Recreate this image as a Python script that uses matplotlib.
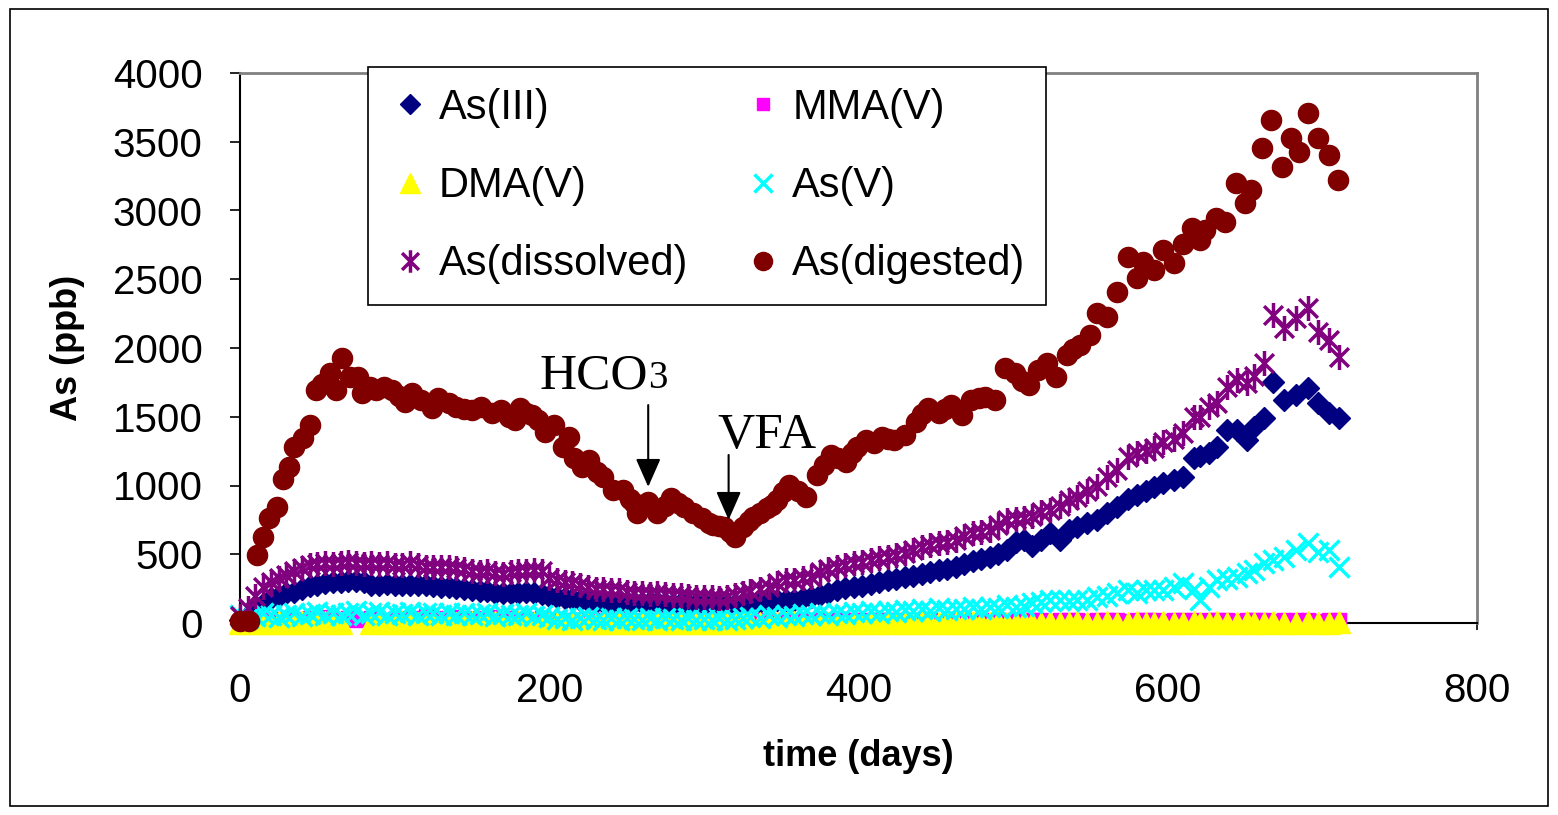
import numpy as np
import matplotlib
matplotlib.use("Agg")
import matplotlib.pyplot as plt
from matplotlib.path import Path
from matplotlib.patches import Rectangle

nan = np.nan

# sampling days for the speciation series
days_spec = [
    0, 5, 10, 15, 20, 25, 30, 35, 40, 45, 50,
    55, 60, 65, 70, 75, 80, 85, 90, 95, 100, 105,
    110, 115, 120, 125, 130, 135, 140, 145, 150, 155, 160,
    165, 170, 175, 180, 185, 190, 195, 200, 205, 210, 215,
    220, 225, 230, 235, 240, 245, 250, 255, 260, 265, 270,
    275, 280, 285, 290, 295, 300, 305, 310, 315, 320, 325,
    330,
    336, 342, 347, 353, 358, 364, 369, 375, 380, 386,
    391, 397, 402, 408, 413, 419, 424, 430, 435, 441,
    446, 452, 457, 463, 468, 474, 479, 485, 490, 496,
    502, 507, 512, 518, 524, 530, 536, 541, 548, 554,
    561, 567, 574, 580, 586, 591, 597, 604, 610, 617,
    621, 627, 632, 638, 645, 651, 656, 662, 668, 675,
    683, 691, 697, 704, 711,
]

as_iii = [
    20, 50, 100, 140, 180, 200, 215, 225, 250, 270, 280,
    290, 295, 300, 305, 305, 295, 280, 280, 285, 280, 280,
    275, 280, 275, 270, 265, 260, 255, 250, 240, 235, 230,
    220, 220, 215, 220, 225, 220, 210, 195, 190, 180, 175,
    170, 160, 150, 150, 145, 150, 145, 150, 145, 150, 150,
    145, 140, 145, 140, 135, 140, 135, 140, 130, 140, 145,
    150,
    155, 160, 167, 165, 170, 180, 191, 205, 216, 240,
    252, 260, 270, 285, 295, 310, 320, 335, 345, 360,
    370, 385, 395, 410, 430, 450, 465, 482, 500, 531,
    591, 604, 560, 604, 652, 604, 680, 700, 725, 749,
    798, 846, 900, 930, 960, 991, 1016, 1040, 1064, 1200,
    1215, 1240, 1282, 1404, 1404, 1331, 1428, 1489, 1755, 1622,
    1658, 1707, 1598, 1525, 1489,
]

mma_v = [
    10, 15, 20, 25, 30, 20, 35, 25, 30, 40, 25,
    45, 30, 20, 35, 25, 30, 40, 20, 0, 30, 40,
    0, 35, 50, 25, 40, 30, 45, 35, 25, 40, 30,
    45, 25, 35, 20, 30, 25, 35, 20, 25, 15, 20,
    25, 15, 20, 25, 15, 20, 25, 15, 20, 25, 15,
    20, 25, 15, 20, 25, 15, 20, 25, 15, 20, 25,
    20,
    20, 15, 20, 25, 20, 15, 20, 25, 20, 15,
    20, 25, 20, 15, 20, 25, 20, 15, 20, 25,
    20, 15, 0, 20, 25, 20, 15, 20, 25, 20,
    15, 20, 25, 20, 15, 20, 25, 20, 15, 20,
    25, 20, 15, 20, 25, 20, 15, 20, 25, 20,
    15, 20, 25, 20, 15, 20, 25, 20, 15, 20,
    25, 20, 15, 20, 20,
]

dma_v = [
    0, 0, 5, 0, 0, 5, 0, 0, 5, 0, 0,
    5, 0, 0, nan, nan, nan, 0, 5, 0, 0, 5,
    0, 0, 5, 0, 0, 5, 0, 0, 5, 0, 0,
    5, 0, 0, 5, 0, 0, 5, 0, 0, 5, 0,
    0, 5, 0, 0, 5, 0, 0, 5, 0, 0, 5,
    0, 0, 5, 0, 0, 5, 0, 0, 5, 0, 0,
    5,
    0, 5, 0, 0, 5, 0, 0, 5, 0, 0,
    5, 0, 0, 5, 0, 0, 5, 0, 0, 5,
    0, 0, 5, 0, 0, 5, 0, 0, 5, 0,
    0, 5, 0, 0, 5, 0, 0, 5, 0, 0,
    5, 0, 0, 5, 0, 0, 5, 0, 0, 5,
    0, 0, 5, 0, 0, 5, 0, 0, 5, 0,
    0, 5, 0, 0, 5,
]

as_v = [
    60, 40, 50, 70, 55, 45, 60, 75, 50, 65, 80,
    60, 70, 55, 75, 85, 60, 70, 80, 55, 75, 65,
    80, 60, 70, 75, 55, 70, 60, 75, 55, 65, 70,
    50, 65, 60, 55, 70, 50, 60, 45, 30, 40, 25,
    35, 45, 30, 20, 35, 25, 40, 30, 20, 35, 25,
    40, 30, 20, 35, 25, 30, 20, 35, 25, 30, 40,
    45,
    40, 55, 45, 60, 50, 65, 55, 70, 60, 75,
    65, 80, 70, 85, 75, 90, 80, 95, 85, 100,
    90, 110, 95, 105, 100, 115, 105, 120, 110, 131,
    119, 125, 143, 150, 167, 167, 160, 167, 167, 191,
    200, 216, 240, 216, 240, 240, 240, 264, 289, 250,
    167, 264, 313, 320, 337, 361, 385, 434, 460, 482,
    531, 580, 519, 531, 410,
]

as_dissolved = [
    50, 110, 200, 260, 295, 330, 350, 375, 400, 420, 430,
    435, 430, 440, 445, 435, 430, 440, 430, 435, 425, 420,
    435, 420, 410, 405, 410, 405, 400, 390, 380, 370, 375,
    365, 360, 370, 375, 380, 385, 375, 330, 310, 300, 290,
    276, 260, 250, 245, 240, 240, 225, 216, 220, 210, 216,
    210, 205, 204, 195, 191, 190, 191, 185, 191, 205, 216,
    235,
    250, 264, 290, 313, 313, 325, 337, 370, 390, 410,
    420, 434, 445, 458, 470, 482, 495, 507, 530, 555,
    565, 580, 590, 604, 630, 652, 665, 676, 710, 749,
    755, 761, 780, 810, 822, 850, 895, 920, 960, 1000,
    1060, 1113, 1210, 1234, 1250, 1270, 1319, 1340, 1380, 1500,
    1500, 1573, 1600, 1719, 1767, 1743, 1800, 1889, 2240, 2143,
    2216, 2288, 2119, 2058, 1937,
]

# digested samples were taken on their own schedule
days_dig = [
    0, 6, 11, 15, 19, 24, 28, 32, 35, 41,
    45, 49, 53, 58, 62, 66, 71, 76, 79, 84,
    88, 93, 98, 103, 107, 111, 117, 124, 128, 135,
    140, 145, 150, 156, 163, 169, 174, 178, 181, 185,
    189, 193, 197, 203, 209, 213, 216, 221, 226, 231,
    235, 241, 248, 252, 255, 257, 264, 270, 275, 279,
    283, 287, 293, 299, 303, 306, 310, 313, 317, 320,
    325, 329, 332, 336, 341, 344, 347, 351, 355, 361,
    366, 373, 378, 382, 387, 392, 396, 399, 405, 410,
    415, 419, 423, 430, 437, 441, 445, 452, 456, 460,
    467, 473, 478, 482, 488, 495, 501, 506, 510, 516,
    522, 528, 535, 539, 543, 550, 554, 561, 567, 574,
    580, 584, 591, 597, 604, 610, 616, 621, 624, 631,
    637, 644, 650, 654, 661, 667, 674, 680, 685, 691,
    697, 704, 710,
]
as_digested = [
    15, 15, 495, 628, 766, 841, 1045, 1137, 1278, 1343,
    1440, 1695, 1740, 1816, 1695, 1925, 1791, 1791, 1670, 1718,
    1695, 1718, 1695, 1650, 1610, 1670, 1622, 1561, 1634, 1597,
    1573, 1560, 1549, 1573, 1525, 1549, 1500, 1476, 1561, 1530,
    1513, 1480, 1391, 1440, 1282, 1355, 1198, 1137, 1185, 1100,
    1064, 967, 967, 900, 870, 798, 882, 798, 850, 907,
    870, 846, 798, 761, 730, 713, 705, 700, 664, 628,
    700, 740, 773, 800, 834, 860, 895, 950, 1004, 960,
    918, 1076, 1150, 1222, 1200, 1173, 1240, 1282, 1331, 1307,
    1355, 1340, 1331, 1367, 1464, 1520, 1561, 1525, 1560, 1585,
    1513, 1622, 1640, 1645, 1622, 1852, 1815, 1760, 1731, 1840,
    1889, 1791, 1949, 1990, 2022, 2095, 2252, 2228, 2410, 2664,
    2507, 2628, 2567, 2713, 2616, 2756, 2870, 2785, 2858, 2943,
    2919, 3198, 3052, 3149, 3452, 3658, 3314, 3525, 3428, 3707,
    3525, 3404, 3222,
]

# amendment events: (label, day, arrow tail, arrow tip)
events = [("HCO", 264, 1585, 990), ("VFA", 316, 1222, 750)]

x_ticks = [0, 200, 400, 600, 800]
y_ticks = [0, 500, 1000, 1500, 2000, 2500, 3000, 3500, 4000]

SANS = "Liberation Sans"
SERIF = "Liberation Serif"

# asterisk: vertical stroke plus an X
star = Path(
    [(0, -1), (0, 1), (-0.75, -0.75), (0.75, 0.75), (-0.75, 0.75), (0.75, -0.75)],
    [Path.MOVETO, Path.LINETO, Path.MOVETO, Path.LINETO, Path.MOVETO, Path.LINETO],
)

fig = plt.figure(figsize=(15.58, 8.15), dpi=100)
ax = fig.add_axes([240 / 1558, 1 - 623 / 815, 1237 / 1558, 550 / 815])

common = dict(linestyle="none", clip_on=False, zorder=3)
h_as3, = ax.plot(days_spec, as_iii, marker="D", ms=11.5, color="#000080",
                 mec="#000080", label="As(III)", **common)
h_mma, = ax.plot(days_spec, mma_v, marker="s", ms=10, color="#FF00FF",
                 mec="#FF00FF", label="MMA(V)", **common)
h_dma, = ax.plot(days_spec, dma_v, marker="^", ms=16, color="#FFFF00",
                 mec="#FFFF00", label="DMA(V)", **common)
h_asv, = ax.plot(days_spec, as_v, marker="x", ms=14, mew=2.5, color="#00FFFF",
                 label="As(V)", **common)
h_dis, = ax.plot(days_spec, as_dissolved, marker=star, ms=18, mew=2.5,
                 mfc="none", mec="#800080", color="#800080",
                 label="As(dissolved)", **common)
h_dig, = ax.plot(days_dig, as_digested, marker="o", ms=14.5, color="#800000",
                 mec="#800000", label="As(digested)", **common)

ax.set_xlim(0, 800)
ax.set_ylim(0, 4000)
ax.set_xticks(x_ticks)
ax.set_yticks(y_ticks)

for side in ["left", "bottom"]:
    ax.spines[side].set_color("black")
    ax.spines[side].set_linewidth(1.5)
for side in ["top", "right"]:
    ax.spines[side].set_color("#808080")
    ax.spines[side].set_linewidth(2)

ax.tick_params(axis="y", direction="out", length=7, width=1.2, pad=20,
               labelsize=29)
ax.tick_params(axis="x", direction="out", length=5, width=1.2, pad=30,
               labelsize=29)
for lab in ax.get_xticklabels() + ax.get_yticklabels():
    lab.set_fontfamily(SANS)

ax.set_xlabel("time (days)", fontsize=26, fontweight="bold", fontfamily=SANS)
ax.set_ylabel("As (ppb)", fontsize=26, fontweight="bold", fontfamily=SANS)
ax.xaxis.set_label_coords(0.5, -0.21)
ax.yaxis.set_label_coords(-0.125, 0.5)

leg = ax.legend(
    [h_as3, h_dma, h_dis, h_mma, h_asv, h_dig],
    ["As(III)", "DMA(V)", "As(dissolved)", "MMA(V)", "As(V)", "As(digested)"],
    ncol=2, loc="upper left", bbox_to_anchor=(0.1035, 1.011),
    prop={"family": SANS, "size": 30}, frameon=True, fancybox=False,
    edgecolor="black", framealpha=1, borderpad=0.5, labelspacing=0.92,
    handlelength=1.0, handletextpad=0.2, columnspacing=1.3,
    borderaxespad=0, numpoints=1, markerscale=0.9,
)
leg.get_frame().set_linewidth(1.2)
leg.set_zorder(5)

# amendment arrows and labels
arrow_style = "-|>,head_length=0.5,head_width=0.22"
for name, day, tail, tip in events:
    ax.annotate("", xy=(day, tip), xytext=(day, tail),
                arrowprops=dict(arrowstyle=arrow_style, color="black", lw=1.5,
                                mutation_scale=35, shrinkA=0, shrinkB=0))
ax.text(194, 1709, "HCO", fontsize=37, fontfamily=SERIF, va="baseline", ha="left")
ax.text(264, 1709, "3", fontsize=28, fontfamily=SERIF, va="baseline", ha="left")
ax.text(309, 1273, "VFA", fontsize=37, fontfamily=SERIF, va="baseline", ha="left")

# thin border around the whole chart
fig.patches.append(Rectangle((10 / 1558, 9 / 815), 1538 / 1558, 797 / 815,
                             transform=fig.transFigure, fill=False,
                             edgecolor="black", linewidth=1.2))

fig.savefig("out.png", dpi=100)
